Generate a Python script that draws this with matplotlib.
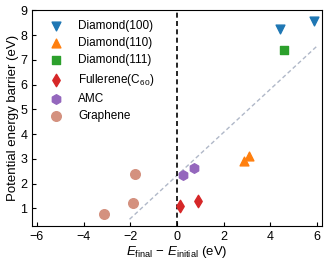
import numpy as np
import matplotlib.pyplot as plt

plt.rcParams['font.family'] = ['Liberation Sans', 'DejaVu Sans']
plt.rcParams['mathtext.fontset'] = 'custom'
plt.rcParams['mathtext.rm'] = 'Liberation Sans'
plt.rcParams['mathtext.it'] = 'Liberation Sans:italic'

# data
d100_x = [4.42, 5.87]
d100_y = [8.24, 8.58]
d110_x = [2.85, 3.09]
d110_y = [2.93, 3.10]
d111_x = [4.60]
d111_y = [7.41]
c60_x = [0.12, 0.89]
c60_y = [1.08, 1.29]
amc_x = [0.28, 0.74]
amc_y = [2.35, 2.62]
gr_x = [-3.13, -1.89, -1.79]
gr_y = [0.76, 1.23, 2.37]
fit_x = [-2.03, 5.98]
fit_y = [0.56, 7.54]

fig = plt.figure(figsize=(3.28, 2.64), dpi=100)
ax = fig.add_axes([0.098, 0.145, 0.883, 0.816])

ms = 40
ax.scatter(d100_x, d100_y, marker='v', s=ms, color='#1f77b4', label='Diamond(100)', zorder=3)
ax.scatter(d110_x, d110_y, marker='^', s=ms, color='#ff7f0e', label='Diamond(110)', zorder=3)
ax.scatter(d111_x, d111_y, marker='s', s=ms, color='#2ca02c', label='Diamond(111)', zorder=3)
ax.scatter(c60_x, c60_y, marker='d', s=ms, color='#d62728', label='Fullerene(C$_{60}$)', zorder=3)
ax.scatter(amc_x, amc_y, marker='h', s=ms + 8, color='#9467bd', label='AMC', zorder=3)
ax.scatter(gr_x, gr_y, marker='o', s=ms + 8, color='#d4917f', label='Graphene', zorder=3)

ax.plot(fit_x, fit_y, ls='--', color='#b0b8c8', lw=1, dashes=(3, 2), zorder=1)
ax.axvline(0, color='black', ls='--', lw=1.2, dashes=(3, 2), zorder=2)

ax.set_xlim(-6.2, 6.2)
ax.set_ylim(0.3, 9)
ax.set_xticks([-6, -4, -2, 0, 2, 4, 6])
ax.set_yticks(range(1, 10))
ax.tick_params(direction='in', labelsize=9, length=3)
ax.set_xlabel(r'$E_{\mathrm{final}}$ $-$ $E_{\mathrm{initial}}$ (eV)', fontsize=9.5, labelpad=1)
ax.set_ylabel('Potential energy barrier (eV)', fontsize=9.5, labelpad=1)

ax.legend(loc='upper left', frameon=False, fontsize=8.5, handletextpad=0.7,
          labelspacing=0.45, borderaxespad=0.4, handlelength=2.4)

fig.savefig('out.png', dpi=100)
